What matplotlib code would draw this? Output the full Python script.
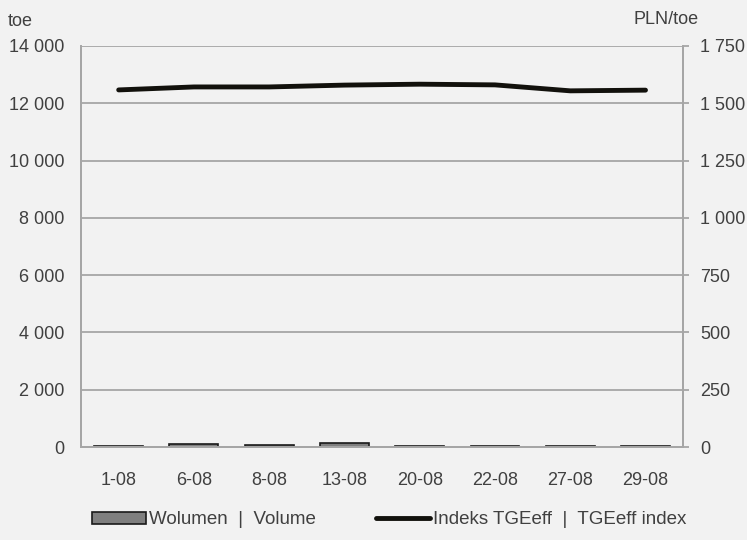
import matplotlib.pyplot as plt
import numpy as np

plt.rcParams['font.family'] = ['Liberation Sans', 'DejaVu Sans']

# dane
dni = ["1-08", "6-08", "8-08", "13-08", "20-08", "22-08", "27-08", "29-08"]
wolumen = [25, 95, 58, 140, 25, 25, 25, 25]          # toe
indeks = [1558, 1571, 1571, 1579, 1583, 1580, 1554, 1557]  # PLN/toe

tlo = "#f2f2f2"
szary = "#a6a6a6"
tekst = "#404040"
fs = 13

def fmt(v, pos=None):
    return "{:,}".format(int(v)).replace(",", " ")

fig = plt.figure(figsize=(7.47, 5.4), dpi=100, facecolor=tlo)
ax = fig.add_axes([0.1085, 0.172, 0.806, 0.743])
ax.set_facecolor(tlo)
ax2 = ax.twinx()

x = np.arange(len(dni))
ax.bar(x, wolumen, width=0.65, color="#7f7f7f", edgecolor="#1a1a1a",
       linewidth=1.2, label="Wolumen  |  Volume", zorder=2)
ax2.plot(x, indeks, color="#12110c", linewidth=3.5, solid_capstyle="round",
         solid_joinstyle="round", label="Indeks TGEeff  |  TGEeff index")

ax.set_xlim(-0.5, len(dni) - 0.5)
ax.set_ylim(0, 14000)
ax.set_yticks(np.arange(0, 14001, 2000))
ax.yaxis.set_major_formatter(plt.FuncFormatter(fmt))
ax2.set_ylim(0, 1750)
ax2.set_yticks(np.arange(0, 1751, 250))
ax2.yaxis.set_major_formatter(plt.FuncFormatter(fmt))

ax.set_xticks(x)
ax.set_xticklabels(dni)
ax.grid(axis="y", color=szary, linewidth=1.3, zorder=0)
ax.set_axisbelow(True)

for a in (ax, ax2):
    for s in a.spines.values():
        s.set_color(szary)
        s.set_linewidth(1.3)
    a.spines["top"].set_visible(False)

ax.tick_params(axis="y", length=0, pad=12, labelsize=fs, labelcolor=tekst)
ax.tick_params(axis="x", length=0, pad=18, labelsize=fs, labelcolor=tekst)
ax2.tick_params(axis="y", length=4.5, width=1.3, color=szary, pad=8,
                labelsize=fs, labelcolor=tekst)

fig.text(8 / 747, 1 - 21 / 540, "toe", fontsize=fs, color=tekst,
         ha="left", va="center")
fig.text(699 / 747, 1 - 20 / 540, "PLN/toe", fontsize=fs, color=tekst,
         ha="right", va="center")

h1, l1 = ax.get_legend_handles_labels()
h2, l2 = ax2.get_legend_handles_labels()
fig.legend(h1 + h2, l1 + l2, loc="center", bbox_to_anchor=(0.521, 1 - 520 / 540),
           ncol=2, frameon=False, fontsize=13.5, labelcolor=tekst,
           handlelength=2.9, handleheight=0.55, handletextpad=0.15,
           columnspacing=3.2)

fig.savefig("out.png", dpi=100, facecolor=tlo)
